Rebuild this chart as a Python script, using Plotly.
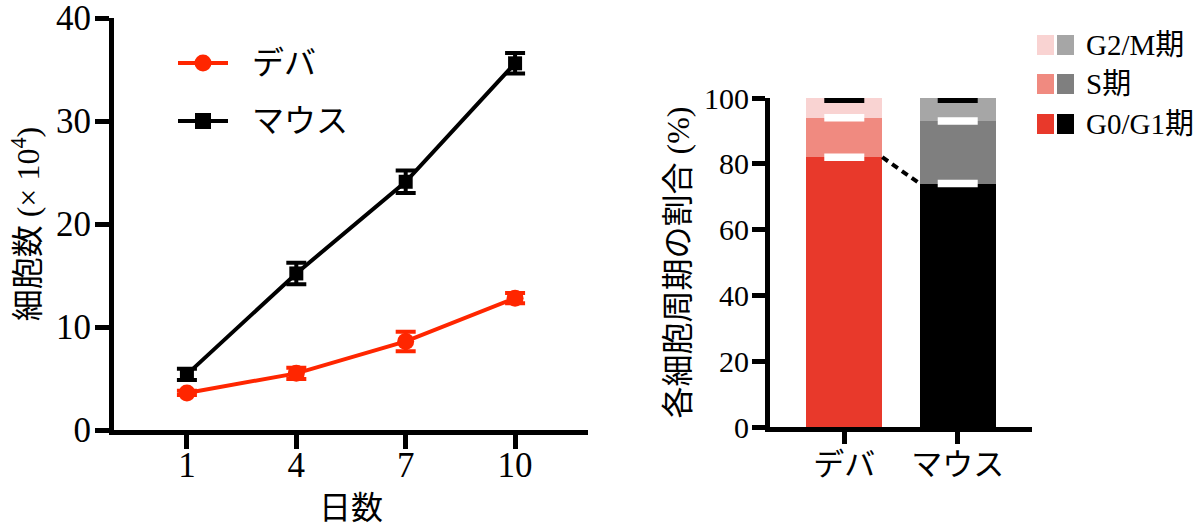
import plotly.graph_objects as go

# ---------------- data ----------------
days = [1, 4, 7, 10]
deba_mean = [3.6, 5.5, 8.6, 12.8]
deba_err = [0.2, 0.55, 0.95, 0.5]
mouse_mean = [5.4, 15.2, 24.1, 35.6]
mouse_err = [0.55, 1.05, 1.1, 1.0]

species = ["デバ", "マウス"]
g0g1 = [82, 74]
s_phase = [12, 19]
g2m = [6, 7]
g0g1_err = [0.25, 0.25]
s_err = [0.25, 0.25]
total_err = [0.2, 0.2]

phase_labels = ["G2/M期", "S期", "G0/G1期"]
deba_colors = ["#F9D3D2", "#F08A80", "#E8392B"]
mouse_colors = ["#A6A6A6", "#7F7F7F", "#000000"]

RED_LINE = "#FF2600"
FONT = "Liberation Serif, Noto Sans CJK JP, serif"
W, H = 1200, 527


def px(x):
    return x / W


def py(y):
    return 1 - y / H


fig = go.Figure()

# ---------------- left: growth curves ----------------
fig.add_trace(go.Scatter(
    x=days, y=mouse_mean, mode="lines+markers", name="マウス",
    line=dict(color="black", width=4),
    marker=dict(symbol="square", size=14, color="black"),
    error_y=dict(type="data", array=mouse_err, color="black", thickness=4, width=10),
    xaxis="x", yaxis="y", showlegend=False, cliponaxis=False,
))
fig.add_trace(go.Scatter(
    x=days, y=deba_mean, mode="lines+markers", name="デバ",
    line=dict(color=RED_LINE, width=4),
    marker=dict(symbol="circle", size=17, color=RED_LINE),
    error_y=dict(type="data", array=deba_err, color=RED_LINE, thickness=4, width=10),
    xaxis="x", yaxis="y", showlegend=False, cliponaxis=False,
))

# ---------------- right: stacked bars ----------------
bar_w = 0.67
xs = [0, 1]
segments = [g0g1, s_phase, g2m]
seg_names = ["G0/G1期", "S期", "G2/M期"]
seg_colors = [[deba_colors[2], mouse_colors[2]],
              [deba_colors[1], mouse_colors[1]],
              [deba_colors[0], mouse_colors[0]]]
for vals, nm, cols in zip(segments, seg_names, seg_colors):
    fig.add_trace(go.Bar(
        x=xs, y=vals, width=bar_w, name=nm,
        marker=dict(color=cols, line=dict(width=0)),
        xaxis="x2", yaxis="y2", showlegend=False,
    ))

cum1 = g0g1
cum2 = [a + b for a, b in zip(g0g1, s_phase)]
cum3 = [a + b + c for a, b, c in zip(g0g1, s_phase, g2m)]

# dashed connector between G0/G1 tops
fig.add_trace(go.Scatter(
    x=[xs[0] + bar_w / 2, xs[1] - bar_w / 2], y=[g0g1[0], g0g1[1]],
    mode="lines", line=dict(color="black", width=4, dash="7px,5px"),
    xaxis="x2", yaxis="y2", showlegend=False, hoverinfo="skip",
))

for ys, errs, col, th in [(cum1, g0g1_err, "white", 6),
                          (cum2, s_err, "white", 6),
                          ([c - 0.7 for c in cum3], total_err, "black", 4)]:
    fig.add_trace(go.Scatter(
        x=xs, y=ys, mode="markers", marker=dict(size=1, opacity=0),
        error_y=dict(type="data", array=errs, color=col, thickness=th, width=20),
        xaxis="x2", yaxis="y2", showlegend=False, cliponaxis=False, hoverinfo="skip",
    ))

axis_common = dict(
    showline=True, linewidth=5, linecolor="black", ticks="outside",
    tickwidth=5, tickcolor="black", showgrid=False, zeroline=False,
    automargin=False, ticklabeloverflow="allow",
)

fig.update_layout(
    width=W, height=H,
    margin=dict(l=0, r=0, t=0, b=0),
    paper_bgcolor="white", plot_bgcolor="white",
    font=dict(family=FONT, color="black"),
    barmode="stack",
    xaxis=dict(
        domain=[px(114), px(588)], range=[-1, 12],
        tickvals=days, ticklen=14, tickfont=dict(size=35, family=FONT),
        ticklabelstandoff=-14,
        title=dict(text="日数", font=dict(size=32, family=FONT), standoff=14),
        anchor="y", **axis_common,
    ),
    yaxis=dict(
        domain=[py(430), py(18)], range=[0, 40],
        tickvals=[0, 10, 20, 30, 40], ticklen=14, tickfont=dict(size=35, family=FONT),
        ticklabelstandoff=-3,
        title=dict(text="細胞数 (× 10<sup>4</sup>)", font=dict(size=32, family=FONT), standoff=8),
        anchor="x", **axis_common,
    ),
    xaxis2=dict(
        domain=[px(770), px(1032)], range=[-0.655, 1.655],
        tickvals=xs, ticktext=species, ticklen=12, tickfont=dict(size=31, family=FONT),
        ticklabelstandoff=-6,
        anchor="y2", **axis_common,
    ),
    yaxis2=dict(
        domain=[py(427), py(98)], range=[0, 100],
        tickvals=[0, 20, 40, 60, 80, 100], ticklen=13, tickfont=dict(size=30, family=FONT),
        ticklabelstandoff=-3,
        title=dict(text="各細胞周期の割合 (%)", font=dict(size=32, family=FONT), standoff=6),
        anchor="x2", **axis_common,
    ),
)

# ---------------- left legend (manual) ----------------
shapes = []
annotations = []
legend_rows = [("デバ", RED_LINE, "circle", 63), ("マウス", "black", "square", 121)]
for label, col, sym, yc in legend_rows:
    shapes.append(dict(type="line", xref="paper", yref="paper",
                       x0=px(178), x1=px(228), y0=py(yc), y1=py(yc),
                       line=dict(color=col, width=4)))
    r = 8.5 if sym == "circle" else 8
    shapes.append(dict(type="circle" if sym == "circle" else "rect",
                       xref="paper", yref="paper",
                       x0=px(203 - r), x1=px(203 + r), y0=py(yc + r), y1=py(yc - r),
                       fillcolor=col, line=dict(width=0)))
    annotations.append(dict(text=label, xref="paper", yref="paper",
                            x=px(250), y=py(yc), xanchor="left", yanchor="middle",
                            showarrow=False, font=dict(size=32, family=FONT)))

# ---------------- right legend (manual) ----------------
right_rows = [45, 84, 124]
for label, c1, c2, yc in zip(phase_labels, deba_colors, mouse_colors, right_rows):
    for x0, col in [(1037, c1), (1057, c2)]:
        shapes.append(dict(type="rect", xref="paper", yref="paper",
                           x0=px(x0), x1=px(x0 + 17), y0=py(yc + 10), y1=py(yc - 10),
                           fillcolor=col, line=dict(width=0)))
    annotations.append(dict(text=label, xref="paper", yref="paper",
                            x=px(1084), y=py(yc), xanchor="left", yanchor="middle",
                            showarrow=False, font=dict(size=29, family=FONT)))

fig.update_layout(shapes=shapes, annotations=annotations)

fig.write_html("out.html")
